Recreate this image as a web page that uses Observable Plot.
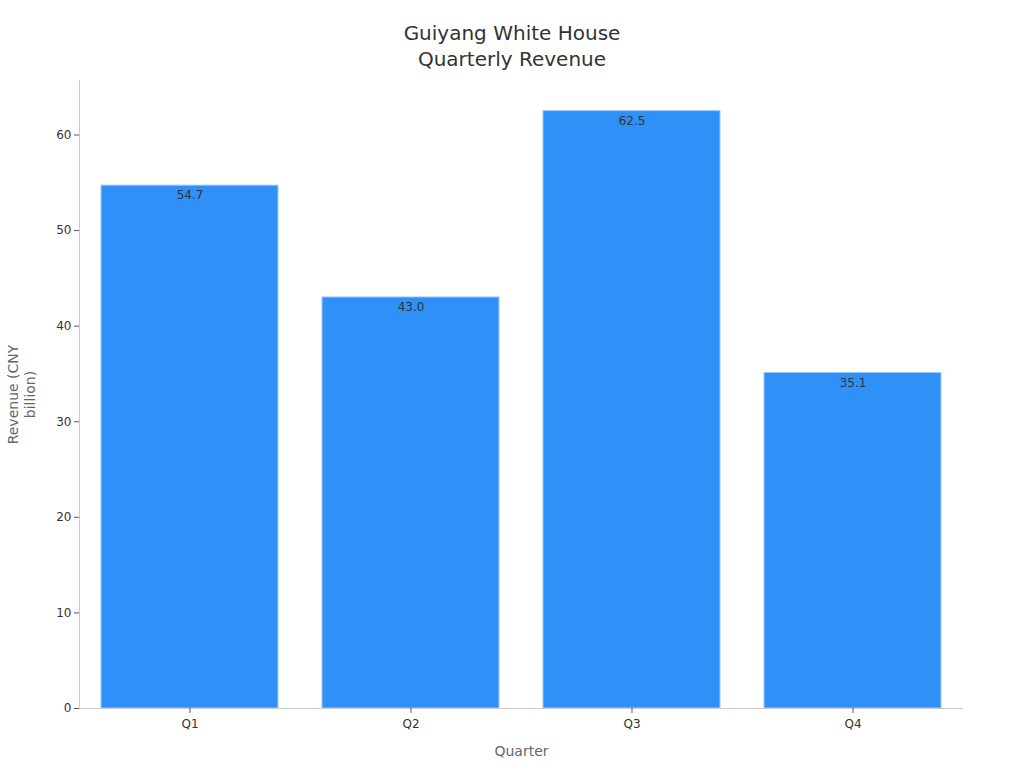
<!DOCTYPE html>
<html>
<head>
<meta charset="utf-8">
<script src="https://cdn.jsdelivr.net/npm/d3@7"></script>
<script src="https://cdn.jsdelivr.net/npm/@observablehq/plot@0.6"></script>
<style>
  html, body { margin: 0; padding: 0; background: #fff; }
  body { width: 1024px; height: 768px; overflow: hidden; font-family: "DejaVu Sans", sans-serif; }
  #title { height: 70px; box-sizing: border-box; padding-top: 20px; text-align: center; font-size: 20px; line-height: 26px; color: #333; }
</style>
</head>
<body>
<div id="title">Guiyang White House<br>Quarterly Revenue</div>
<div id="chart"></div>
<script>
const quarters = ["Q1", "Q2", "Q3", "Q4"];
const revenue = [54.7, 43.0, 62.5, 35.1];
const yTicks = [0, 10, 20, 30, 40, 50, 60];

const data = quarters.map((q, i) => ({quarter: q, value: revenue[i]}));

const chart = Plot.plot({
  width: 1024,
  height: 698,
  marginTop: 10,
  marginBottom: 60,
  marginLeft: 79,
  marginRight: 61,
  style: {fontFamily: "DejaVu Sans, sans-serif", fontSize: "12px", color: "#333", background: "#fff"},
  x: {domain: quarters, paddingInner: 0.2, paddingOuter: 0.1, label: null},
  y: {domain: [0, 65.7], label: null},
  marks: [
    Plot.frame({anchor: "left", stroke: "#ccc"}),
    Plot.barY(data, {x: "quarter", y: "value", fill: "#2f91f8", stroke: "#9cc9fb", strokeWidth: 1}),
    Plot.ruleY([0], {stroke: "#ccc"}),
    Plot.axisY({ticks: yTicks, tickSize: 5, tickPadding: 3, stroke: "#555", fill: "#333", fontSize: 12, label: null}),
    Plot.axisX({tickSize: 5, tickPadding: 6, stroke: "#555", fill: "#333", fontSize: 12, label: null}),
    Plot.text(data, {x: "quarter", y: "value", text: d => d.value.toFixed(1), dy: 10, fill: "#333", fontSize: 12}),
    Plot.text(["Quarter"], {frameAnchor: "bottom", dy: 47, fill: "#666", fontSize: 14}),
    Plot.text(["Revenue (CNY\nbillion)"], {frameAnchor: "left", textAnchor: "middle", dx: -58, rotate: -90, fill: "#666", fontSize: 14, lineHeight: 1.2})
  ]
});
document.getElementById("chart").appendChild(chart);
</script>
</body>
</html>
